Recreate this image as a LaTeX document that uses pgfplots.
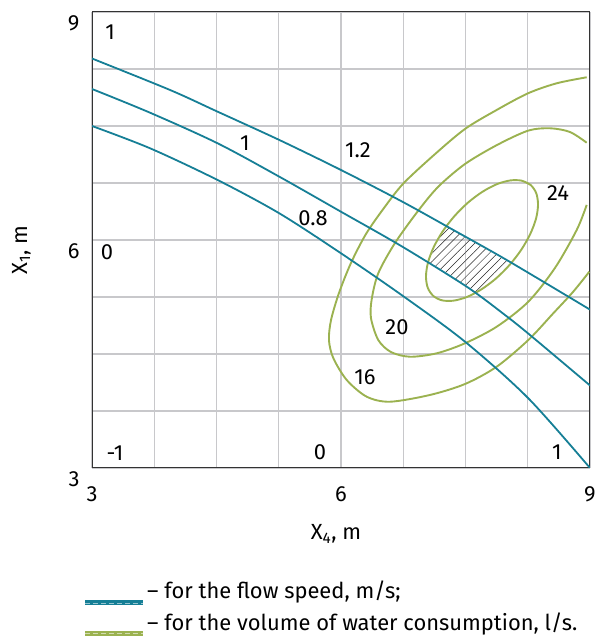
\documentclass[border=0pt]{standalone}
\usepackage{fontspec}
\setmainfont{Fira Sans}
\usepackage{pgfplots}
\pgfplotsset{compat=1.18}
\usetikzlibrary{patterns.meta}
\definecolor{tealc}{RGB}{22,127,150}
\definecolor{greenc}{RGB}{155,178,80}
\definecolor{gridc}{RGB}{200,200,203}
\begin{document}
\begin{tikzpicture}[font=\fontsize{22}{26}\selectfont]
\useasboundingbox (0,0) rectangle (595bp,636bp);
\begin{axis}[
  at={(92bp,168bp)}, anchor=south west,
  scale only axis, width=498bp, height=456bp,
  xmin=3, xmax=9, ymin=3, ymax=9,
  xtick={3,6,9}, ytick={3,6,9},
  minor xtick={3.75,4.5,5.25,6.75,7.5,8.25},
  minor ytick={3.75,4.5,5.25,6.75,7.5,8.25},
  grid=both,
  major grid style={gridc, line width=1.1bp},
  minor grid style={gridc, line width=1.1bp},
  major tick length=0, minor tick length=0,
  axis line style={black!80, line width=1bp},
  tick label style={font=\fontsize{22}{26}\selectfont},
  /pgf/number format/assume math mode=true,
  xticklabel style={yshift=-15bp},
  yticklabel style={xshift=-9bp, yshift=-11bp},
  xlabel={X\textsubscript{4}, m}, ylabel={X\textsubscript{1}, m},
  xlabel style={at={(axis description cs:0.49,-0.145)}, anchor=center},
  ylabel style={at={(axis description cs:-0.142,0.478)}, anchor=center},
  label style={font=\fontsize{22}{26}\selectfont},
]
% hatched region between v = 1 and v = 1.2 inside the 24 l/s contour
\addplot[draw=none, pattern={Lines[angle=45, distance=5.8bp, line width=0.5bp]}, pattern color=black!85]
  coordinates {(7.273,6.180)(7.353,6.132)(7.996,5.737)(8.052,5.701)(8.032,5.673)(7.869,5.495)(7.694,5.352)(7.614,5.306)
               (7.514,5.386)(7.2,5.599)(7.048,5.703)(7.117,5.906)(7.225,6.113)} -- cycle;
% volume of water consumption contours (16, 20, 24 l/s)
\addplot[greenc, line width=1.9bp, smooth] coordinates {
  (8.960,8.141)(8.599,8.062)(8.253,7.930)(7.876,7.711)(7.494,7.461)(7.120,7.118)(6.751,6.743)(6.518,6.421)
  (6.301,6.079)(6.120,5.697)(5.976,5.303)(5.880,4.947)(5.855,4.684)(5.907,4.447)(6.069,4.158)(6.310,3.938)
  (6.590,3.872)(7.072,3.961)(7.494,4.105)(7.876,4.333)(8.257,4.684)(8.558,5.036)(8.795,5.316)(8.992,5.583)};
\addplot[greenc, line width=1.9bp, smooth] coordinates {
  (8.960,7.280)(8.759,7.421)(8.518,7.470)(8.253,7.438)(7.880,7.250)(7.494,7.0)(7.172,6.701)(6.931,6.386)
  (6.651,5.961)(6.449,5.562)(6.370,5.220)(6.361,4.974)(6.449,4.684)(6.602,4.526)(6.831,4.464)(7.153,4.509)
  (7.494,4.641)(7.876,4.859)(8.257,5.188)(8.578,5.632)(8.840,6.132)(8.960,6.461)};
\addplot[greenc, line width=1.9bp, smooth] coordinates {
  (8.287,6.722)(8.180,6.780)(8.041,6.784)(7.879,6.735)(7.705,6.635)(7.529,6.491)(7.366,6.313)(7.225,6.113)
  (7.117,5.906)(7.048,5.704)(7.024,5.522)(7.045,5.372)(7.112,5.264)(7.218,5.206)(7.357,5.202)(7.519,5.251)
  (7.694,5.352)(7.869,5.495)(8.032,5.673)(8.173,5.873)(8.281,6.081)(8.350,6.282)(8.374,6.464)(8.353,6.614)
  (8.287,6.722)(8.180,6.780)};
% flow speed contours (1.2, 1, 0.8 m/s)
\addplot[tealc, line width=1.8bp, smooth] coordinates {
  (3.000,8.388)(3.940,7.974)(4.514,7.688)(5.257,7.316)(6.000,6.921)(6.739,6.504)(7.353,6.132)(7.996,5.737)(9.0,5.084)};
\addplot[tealc, line width=1.8bp, smooth] coordinates {
  (3,7.987)(3.699,7.675)(4.514,7.272)(5.257,6.833)(6.000,6.372)(6.739,5.912)(7.514,5.386)(7.976,5.013)(8.277,4.75)(9.0,4.086)};
\addplot[tealc, line width=1.8bp, smooth] coordinates {
  (3,7.5)(3.699,7.207)(4.514,6.789)(5.257,6.351)(6.000,5.825)(6.747,5.263)(7.494,4.662)(8.257,3.917)(9,3)};
% contour labels
\node at (axis cs:3.217,8.737) {1};
\node at (axis cs:3.181,5.842) {0};
\node at (axis cs:3.277,3.197) {-1};
\node at (axis cs:5.747,3.211) {0};
\node at (axis cs:8.602,3.211) {1};
\node at (axis cs:6.205,7.184) {1.2};
\node at (axis cs:4.843,7.276) {1};
\node at (axis cs:5.663,6.289) {0.8};
\node at (axis cs:8.614,6.618) {24};
\node at (axis cs:6.675,4.855) {20};
\node at (axis cs:6.289,4.197) {16};
\end{axis}
% legend
\fill[tealc] (85bp,30.5bp) rectangle (143bp,35.5bp);
\draw[tealc!45!white, line width=0.9bp, dash pattern=on 5bp off 3bp] (85bp,33bp) -- (143bp,33bp);
\node[anchor=base west, inner sep=0pt] at (147bp,38bp) {-- for the flow speed, m/s;};
\fill[greenc] (85bp,0bp) rectangle (143bp,5bp);
\draw[greenc!45!white, line width=0.9bp, dash pattern=on 5bp off 3bp] (85bp,2.5bp) -- (143bp,2.5bp);
\node[anchor=base west, inner sep=0pt] at (147bp,6bp) {-- for the volume of water consumption, l/s.};
\end{tikzpicture}
\end{document}
